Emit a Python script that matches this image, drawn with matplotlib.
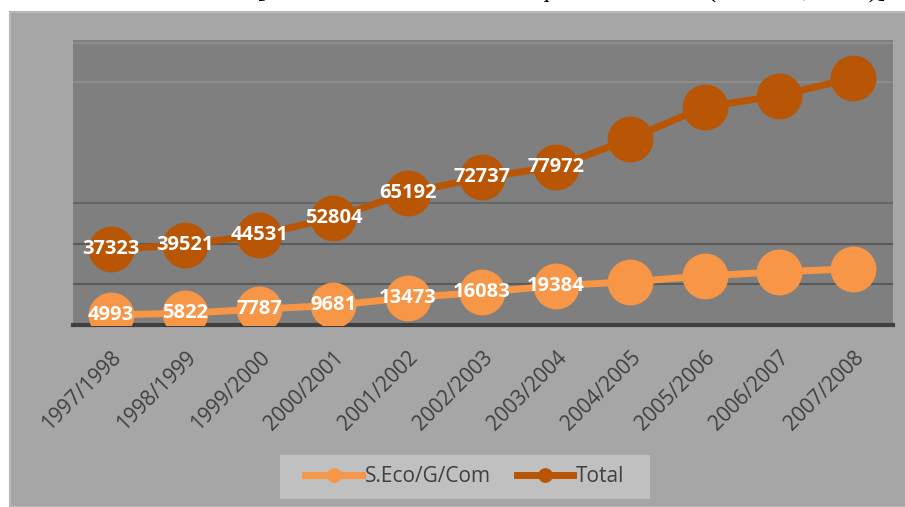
import matplotlib.pyplot as plt
from matplotlib.patches import Rectangle

# années universitaires
annees = ["1997/1998", "1998/1999", "1999/2000", "2000/2001", "2001/2002", "2002/2003",
          "2003/2004", "2004/2005", "2005/2006", "2006/2007", "2007/2008"]
seco = [4993, 5822, 7787, 9681, 13473, 16083, 19384, 21300, 24200, 26200, 27700]
total = [37323, 39521, 44531, 52804, 65192, 72737, 77972, 91800, 107500, 113000, 121800]
n_labels = 7  # seules les 7 premières valeurs sont étiquetées

plt.rcParams['font.family'] = ['Open Sans', 'DejaVu Sans']

fig = plt.figure(figsize=(9.05, 5.07), dpi=100)
fig.patch.set_facecolor("white")
# fond gris du graphique
fond = Rectangle((10 / 905, 0), 1, 1 - 12 / 507, transform=fig.transFigure,
                 facecolor="#a6a6a6", edgecolor="#b8b8b8", lw=1.5, zorder=-10)
fig.add_artist(fond)
# cadre de la légende
cadre = Rectangle((280 / 905, 1 - 499 / 507), 370 / 905, 44 / 507, transform=fig.transFigure,
                  facecolor="#c0c0c0", edgecolor="none", zorder=-5)
fig.add_artist(cadre)
# titre coupé en haut
fig.text(0.632, 1 + 2 / 507, "[Source : Annuaire Statistique du MESRS (MESRS, 2008)]",
         family="Liberation Serif", fontsize=19, ha="center", va="baseline", color="black")

ax = fig.add_axes([73 / 905, 1 - 325 / 507, 820 / 905, 285 / 507])
ax.set_facecolor("#7f7f7f")

x = range(len(annees))
for v, c in [(20000, "#5a5a5a"), (40000, "#5a5a5a"), (60000, "#666666"),
             (120000, "#8c8c8c"), (139000, "#8c8c8c")]:
    ax.axhline(v, color=c, lw=1.5, zorder=1)

ax.plot(x, seco, color="#f79646", lw=5, marker="o", markersize=32, label="S.Eco/G/Com", zorder=3)
ax.plot(x, total, color="#b85605", lw=5, marker="o", markersize=32, label="Total", zorder=3)

for i in range(n_labels):
    ax.text(i, seco[i], str(seco[i]), color="white", fontsize=14.5, fontweight="bold",
            ha="center", va="center", zorder=4)
    ax.text(i, total[i], str(total[i]), color="white", fontsize=14.5, fontweight="bold",
            ha="center", va="center", zorder=4)

ax.set_xlim(-0.51, 10.54)
ax.set_ylim(0, 140500)
ax.set_yticks([])
ax.set_xticks(list(x))
ax.set_xticklabels(annees, rotation=45, ha="right", rotation_mode="anchor",
                   fontsize=15, color="#404040")
ax.tick_params(axis="x", length=0, pad=16)
for s in ["top", "right", "left"]:
    ax.spines[s].set_visible(False)
ax.spines["bottom"].set_color("#404040")
ax.spines["bottom"].set_linewidth(3)

leg = ax.legend(loc="center", bbox_to_anchor=(465 / 905, 1 - 477 / 507),
                bbox_transform=fig.transFigure, ncol=2, frameon=False, fontsize=15,
                markerscale=0.3, handlelength=2.7, handletextpad=0.15, columnspacing=1.25)
for t in leg.get_texts():
    t.set_color("#404040")

fig.savefig("out.png", dpi=100, facecolor=fig.get_facecolor())
